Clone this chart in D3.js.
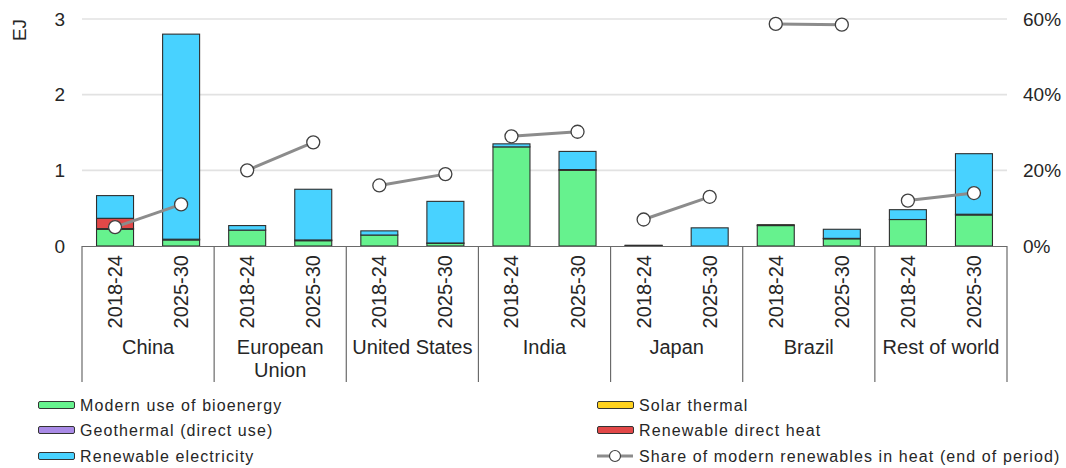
<!DOCTYPE html>
<html>
<head>
<meta charset="utf-8">
<script src="https://cdn.jsdelivr.net/npm/d3@7/dist/d3.min.js"></script>
<style>
  html, body { margin: 0; padding: 0; background: #fff; }
  svg { display: block; font-family: "Liberation Sans", Arial, sans-serif; }
</style>
</head>
<body>
<svg id="chart" width="1066" height="468"></svg>
<script>
// ---------- DATA ----------
const countries = ["China", "European Union", "United States", "India", "Japan", "Brazil", "Rest of world"];
const periods = ["2018-24", "2025-30"];
// values per country x period, in EJ (order: China 18-24, China 25-30, EU 18-24, ...)
const bioenergy    = [0.22, 0.08, 0.21, 0.07, 0.145, 0.035, 1.31, 1.0, 0.005, 0.0, 0.27, 0.095, 0.35, 0.41];
const solarThermal = [0.01, 0.01, 0.0,  0.01, 0.0,   0.005, 0.0,  0.01, 0.005, 0.0, 0.012, 0.006, 0.0,  0.01];
const geothermal   = [0.0,  0.0,  0.0,  0.0,  0.0,   0.0,   0.0,  0.0,  0.0,   0.0, 0.0,   0.0,   0.0,  0.0];
const directHeat   = [0.136,0.0,  0.0,  0.0,  0.0,   0.0,   0.0,  0.0,  0.0,   0.0, 0.0,   0.0,   0.0,  0.0];
const electricity  = [0.30, 2.71, 0.06, 0.67, 0.055, 0.55,  0.04, 0.24, 0.0,   0.24,0.0,   0.12,  0.13, 0.80];
// share of modern renewables in heat (end of period), %
const share        = [5.0, 11.0, 20.0, 27.4, 16.0, 19.0, 29.0, 30.2, 7.0, 13.0, 58.7, 58.5, 12.0, 14.0];
const leftTicks = [0, 1, 2, 3];
const rightTicks = [0, 20, 40, 60];

const seriesNames = ["Modern use of bioenergy", "Solar thermal", "Geothermal (direct use)", "Renewable direct heat", "Renewable electricity"];
const seriesData = [bioenergy, solarThermal, geothermal, directHeat, electricity];
const seriesColors = ["#66f28e", "#ffd21f", "#a98ae6", "#e24848", "#48d2ff"];
const shareName = "Share of modern renewables in heat (end of period)";

// ---------- BUILD TABLE ----------
const rows = [];
countries.forEach((c, ci) => periods.forEach((p, pi) => {
  const i = ci * 2 + pi;
  const r = { country: c, period: p, share: share[i] };
  seriesNames.forEach((s, si) => r[s] = seriesData[si][i]);
  rows.push(r);
}));

// ---------- LAYOUT ----------
const svg = d3.select("#chart");
const X0 = 82, X1 = 1007, Y0 = 246, Y1 = 19;
const textColor = "#262626";

const xOuter = d3.scaleBand().domain(countries).range([X0, X1]).padding(0);
const xInner = d3.scaleBand().domain(periods).range([0, xOuter.bandwidth()]).paddingInner(0.44).paddingOuter(0.22);
const y = d3.scaleLinear().domain([0, 3]).range([Y0, Y1]);
const y2 = d3.scaleLinear().domain([0, 60]).range([Y0, Y1]);

// gridlines
svg.append("g").selectAll("line").data(leftTicks.filter(d => d > 0)).join("line")
  .attr("x1", X0).attr("x2", X1)
  .attr("y1", d => y(d)).attr("y2", d => y(d))
  .attr("stroke", "#e2e2e2").attr("stroke-width", 1.6);

// left axis
const yAxis = d3.axisLeft(y).tickValues(leftTicks).tickSize(0).tickPadding(0).tickFormat(d3.format("d"));
const gy = svg.append("g").attr("transform", `translate(${X0 - 17},0)`).call(yAxis);
gy.select(".domain").remove();
gy.selectAll("text").attr("font-size", 19).attr("fill", textColor).attr("font-family", "Liberation Sans, Arial, sans-serif");

// right axis
const yAxis2 = d3.axisRight(y2).tickValues(rightTicks).tickSize(0).tickPadding(0).tickFormat(d => d + "%");
const gy2 = svg.append("g").attr("transform", `translate(${X1 + 16},0)`).call(yAxis2);
gy2.select(".domain").remove();
gy2.selectAll("text").attr("font-size", 19).attr("fill", textColor).attr("font-family", "Liberation Sans, Arial, sans-serif");

// y axis title
svg.append("text").attr("transform", `translate(26,30) rotate(-90)`)
  .attr("text-anchor", "middle").attr("font-size", 19).attr("fill", textColor).text("EJ");

// stacked bars
const stack = d3.stack().keys(seriesNames);
const stacked = stack(rows);
const barG = svg.append("g");
stacked.forEach((layer, li) => {
  barG.append("g").selectAll("rect").data(layer.filter(d => d[1] - d[0] > 0)).join("rect")
    .attr("x", d => xOuter(d.data.country) + xInner(d.data.period))
    .attr("width", xInner.bandwidth())
    .attr("y", d => y(d[1]))
    .attr("height", d => y(d[0]) - y(d[1]))
    .attr("fill", seriesColors[li])
    .attr("stroke", "#2e2e2e").attr("stroke-width", 1.1);
});

// x axis line & separators
svg.append("line").attr("x1", X0).attr("x2", X1).attr("y1", Y0 + 0.5).attr("y2", Y0 + 0.5)
  .attr("stroke", "#6a6a6a").attr("stroke-width", 1.2);
const bounds = countries.map(c => xOuter(c)).concat([X1]);
svg.append("g").selectAll("line").data(bounds).join("line")
  .attr("x1", d => d).attr("x2", d => d).attr("y1", Y0).attr("y2", 382)
  .attr("stroke", "#6a6a6a").attr("stroke-width", 1.2);

// period labels
svg.append("g").selectAll("text").data(rows).join("text")
  .attr("transform", d => `translate(${xOuter(d.country) + xInner(d.period) + xInner.bandwidth() / 2 + 7},255) rotate(-90)`)
  .attr("text-anchor", "end").attr("font-size", 20).attr("fill", textColor)
  .text(d => d.period);

// country labels with wrapping
const cl = svg.append("g").selectAll("text").data(countries).join("text")
  .attr("x", d => xOuter(d) + xOuter.bandwidth() / 2)
  .attr("y", 354)
  .attr("text-anchor", "middle").attr("font-size", 20).attr("fill", textColor)
  .text(d => d);
cl.each(function(d) {
  const t = d3.select(this);
  if (this.getComputedTextLength() > xOuter.bandwidth() - 6) {
    const words = d.split(" ");
    t.text(null);
    words.forEach((w, i) => {
      t.append("tspan").attr("x", xOuter(d) + xOuter.bandwidth() / 2).attr("dy", i === 0 ? 0 : 23).text(w);
    });
  }
});

// share line (per country)
const line = d3.line()
  .x(d => xOuter(d.country) + xInner(d.period) + xInner.bandwidth() / 2)
  .y(d => y2(d.share));
svg.append("g").selectAll("path").data(countries.map(c => rows.filter(r => r.country === c))).join("path")
  .attr("d", line).attr("fill", "none").attr("stroke", "#8c8c8c").attr("stroke-width", 3);
svg.append("g").selectAll("circle").data(rows).join("circle")
  .attr("cx", d => xOuter(d.country) + xInner(d.period) + xInner.bandwidth() / 2)
  .attr("cy", d => y2(d.share))
  .attr("r", 6.5).attr("fill", "#fff").attr("stroke", "#404040").attr("stroke-width", 1.3);

// legend
const legendItems = [
  { name: seriesNames[0], color: seriesColors[0], col: 0, row: 0 },
  { name: seriesNames[1], color: seriesColors[1], col: 1, row: 0 },
  { name: seriesNames[2], color: seriesColors[2], col: 0, row: 1 },
  { name: seriesNames[3], color: seriesColors[3], col: 1, row: 1 },
  { name: seriesNames[4], color: seriesColors[4], col: 0, row: 2 },
  { name: shareName, color: null, col: 1, row: 2 }
];
const colX = [38, 597], rowY = [405, 430, 456];
const lg = svg.append("g").selectAll("g").data(legendItems).join("g")
  .attr("transform", d => `translate(${colX[d.col]},${rowY[d.row]})`);
lg.filter(d => d.color).append("rect")
  .attr("x", 0.5).attr("y", -3.5).attr("width", 36).attr("height", 7).attr("rx", 1.5)
  .attr("fill", d => d.color).attr("stroke", "#333").attr("stroke-width", 1);
lg.filter(d => !d.color).append("line")
  .attr("x1", 0).attr("x2", 36).attr("y1", 0).attr("y2", 0)
  .attr("stroke", "#8c8c8c").attr("stroke-width", 3);
lg.filter(d => !d.color).append("circle")
  .attr("cx", 18).attr("cy", 0).attr("r", 5.5)
  .attr("fill", "#fff").attr("stroke", "#404040").attr("stroke-width", 1.2);
lg.append("text").attr("x", 42).attr("y", 0).attr("dy", "0.35em")
  .attr("font-size", 16).attr("letter-spacing", 1.1).attr("fill", textColor)
  .text(d => d.name);
</script>
</body>
</html>
